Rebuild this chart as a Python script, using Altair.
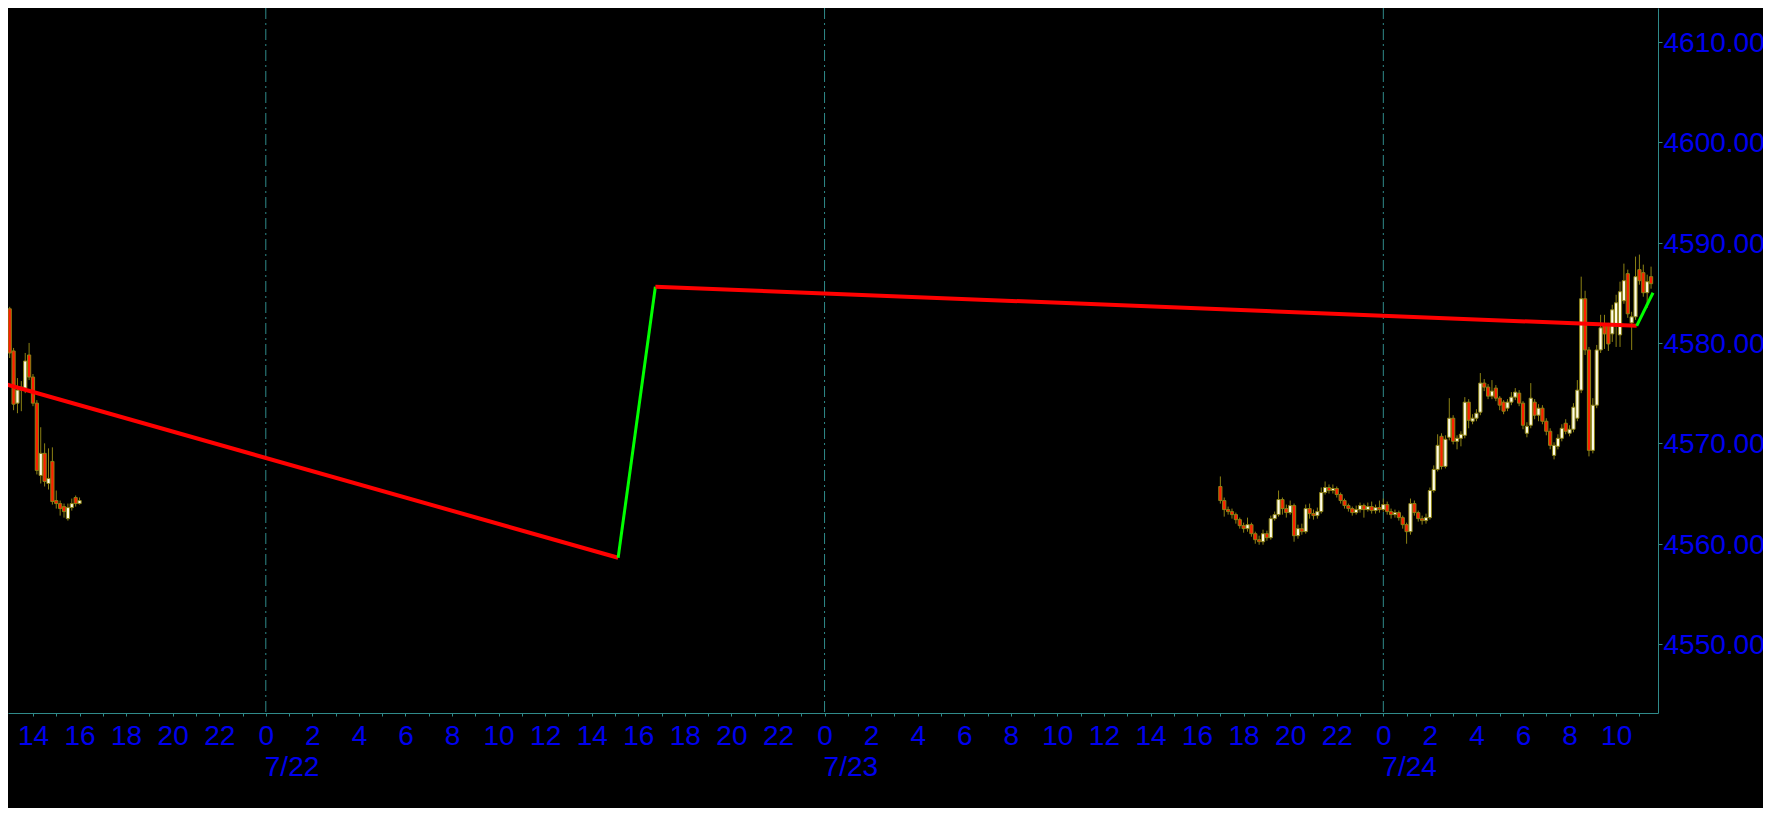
import altair as alt
import pandas as pd
import numpy as np

# ---------------- data (10-minute candles) ----------------
left_start = "2023-07-21 12:50"
left_open  = [4581.5, 4583.4, 4579.2, 4574.0, 4575.3, 4575.5, 4578.8, 4576.6, 4574.0, 4566.8,
              4569.0, 4566.0, 4568.2, 4564.3, 4564.0, 4563.7, 4562.5, 4563.6, 4564.6, 4564.0]
left_high  = [4584.0, 4583.6, 4579.5, 4576.5, 4576.2, 4579.0, 4580.0, 4576.9, 4574.3, 4571.6,
              4570.0, 4569.5, 4569.6, 4565.3, 4564.3, 4564.0, 4564.0, 4564.5, 4564.8, 4564.6]
left_low   = [4581.0, 4578.5, 4573.3, 4573.0, 4573.2, 4575.0, 4576.3, 4573.7, 4566.9, 4566.0,
              4565.7, 4565.4, 4563.9, 4563.5, 4562.8, 4562.6, 4562.3, 4563.3, 4563.7, 4563.9]
left_close = [4583.4, 4579.0, 4573.9, 4575.3, 4575.6, 4578.2, 4576.6, 4574.0, 4567.3, 4569.0,
              4566.2, 4566.5, 4564.2, 4564.0, 4563.5, 4563.2, 4563.6, 4564.0, 4564.0, 4564.3]

right_start = "2023-07-23 17:00"
right_open = [4565.7, 4564.3, 4563.4, 4563.2, 4562.9, 4562.4, 4561.8, 4561.5, 4561.9, 4561.0,
              4560.4, 4560.2, 4561.0, 4560.6, 4562.5, 4562.9, 4564.4, 4563.5, 4563.1, 4563.8,
              4560.8, 4561.5, 4561.2, 4563.5, 4563.0, 4562.8, 4563.2, 4565.1, 4565.6, 4565.3,
              4565.5, 4564.9, 4564.3, 4563.8, 4563.5, 4563.1, 4563.4, 4563.8, 4563.4, 4563.7,
              4563.3, 4563.6, 4563.4, 4563.9, 4563.2, 4562.9, 4563.1, 4562.6, 4561.9, 4561.2,
              4564.0, 4563.1, 4562.5, 4562.3, 4562.6, 4565.3, 4567.4, 4570.7, 4567.7, 4570.6,
              4572.5, 4570.2, 4570.5, 4570.8, 4574.1, 4572.2, 4572.5, 4573.1, 4576.0, 4575.6,
              4574.7, 4575.5, 4574.5, 4574.1, 4573.5, 4574.1, 4574.6, 4575.0, 4574.0, 4571.0,
              4571.8, 4574.1, 4572.8, 4573.5, 4572.2, 4571.2, 4568.8, 4569.7, 4570.5, 4572.0,
              4571.0, 4571.4, 4572.5, 4575.3, 4584.4, 4579.3, 4569.3, 4573.8, 4579.3, 4581.9,
              4581.7, 4580.9, 4581.7, 4580.8, 4584.2, 4586.9, 4582.0, 4582.6, 4587.3, 4587.0,
              4585.0, 4586.6]
right_high = [4566.7, 4564.6, 4563.7, 4563.5, 4563.1, 4562.6, 4562.1, 4562.6, 4562.1, 4561.2,
              4560.8, 4561.4, 4561.3, 4562.8, 4563.2, 4565.3, 4564.6, 4563.9, 4564.3, 4564.0,
              4561.9, 4562.0, 4563.9, 4564.0, 4563.4, 4563.6, 4565.6, 4566.2, 4565.9, 4565.9,
              4565.7, 4565.1, 4564.5, 4564.0, 4563.7, 4563.8, 4564.1, 4564.0, 4564.1, 4564.2,
              4563.9, 4564.3, 4564.5, 4564.2, 4563.5, 4563.4, 4563.3, 4562.8, 4562.1, 4564.5,
              4564.3, 4563.3, 4562.8, 4563.0, 4565.6, 4567.8, 4570.9, 4571.0, 4570.8, 4574.5,
              4572.8, 4570.8, 4571.2, 4574.6, 4574.4, 4572.9, 4573.4, 4577.0, 4576.4, 4575.9,
              4576.3, 4575.8, 4574.7, 4574.3, 4574.4, 4575.1, 4575.5, 4575.3, 4574.2, 4572.1,
              4576.0, 4574.4, 4573.9, 4573.8, 4572.5, 4571.5, 4570.1, 4570.9, 4571.9, 4572.4,
              4571.8, 4574.0, 4576.3, 4586.6, 4585.2, 4579.6, 4574.5, 4579.8, 4582.8, 4582.8,
              4582.0, 4583.8, 4584.8, 4586.1, 4587.9, 4587.3, 4583.1, 4588.6, 4588.8, 4587.8,
              4586.8, 4587.6]
right_low  = [4564.0, 4562.7, 4562.9, 4562.5, 4562.0, 4561.5, 4561.1, 4561.2, 4560.7, 4560.0,
              4559.9, 4559.9, 4560.3, 4560.4, 4562.3, 4562.7, 4562.9, 4562.6, 4562.9, 4560.2,
              4560.5, 4560.9, 4561.0, 4562.5, 4562.4, 4562.5, 4563.0, 4564.9, 4565.0, 4565.0,
              4564.6, 4564.0, 4563.5, 4563.2, 4562.8, 4562.9, 4563.1, 4562.6, 4563.2, 4563.0,
              4563.0, 4563.1, 4563.2, 4562.9, 4562.5, 4562.6, 4562.3, 4561.5, 4560.0, 4560.9,
              4562.8, 4562.2, 4561.9, 4562.0, 4562.4, 4565.1, 4567.2, 4567.4, 4567.5, 4570.3,
              4569.9, 4569.4, 4569.7, 4570.5, 4571.5, 4571.9, 4572.2, 4572.8, 4575.2, 4574.4,
              4574.4, 4574.2, 4573.3, 4572.9, 4573.2, 4573.8, 4574.3, 4573.7, 4571.4, 4570.6,
              4571.5, 4572.4, 4572.2, 4571.9, 4570.8, 4569.4, 4568.4, 4569.4, 4570.2, 4570.9,
              4570.7, 4571.1, 4572.2, 4575.0, 4578.8, 4568.7, 4569.0, 4573.5, 4579.0, 4579.4,
              4579.2, 4580.1, 4579.6, 4579.6, 4583.9, 4582.5, 4579.3, 4582.3, 4585.8, 4584.6,
              4583.5, 4585.4]
right_close = [4564.3, 4563.4, 4563.2, 4562.9, 4562.4, 4561.8, 4561.5, 4561.9, 4561.0, 4560.4,
               4560.2, 4561.0, 4560.6, 4562.5, 4562.9, 4564.4, 4563.5, 4563.1, 4563.8, 4560.8,
               4561.5, 4561.2, 4563.5, 4563.0, 4562.8, 4563.2, 4565.1, 4565.6, 4565.3, 4565.5,
               4564.9, 4564.3, 4563.8, 4563.5, 4563.1, 4563.4, 4563.8, 4563.4, 4563.7, 4563.3,
               4563.6, 4563.4, 4563.9, 4563.2, 4562.9, 4563.1, 4562.6, 4561.9, 4561.2, 4564.0,
               4563.1, 4562.5, 4562.3, 4562.6, 4565.3, 4567.4, 4569.8, 4567.7, 4570.4, 4572.5,
               4570.2, 4570.5, 4570.9, 4574.1, 4572.3, 4572.5, 4573.0, 4576.0, 4575.6, 4574.7,
               4575.2, 4574.5, 4573.8, 4573.2, 4574.1, 4574.6, 4575.1, 4574.0, 4571.8, 4571.7,
               4574.5, 4572.8, 4573.5, 4572.2, 4571.2, 4569.8, 4569.8, 4570.5, 4571.5, 4571.2,
               4571.4, 4573.6, 4575.3, 4584.4, 4579.3, 4569.3, 4573.8, 4579.3, 4581.5, 4580.9,
               4579.9, 4583.3, 4584.0, 4585.1, 4586.2, 4582.9, 4582.6, 4586.6, 4586.2, 4585.0,
               4586.1, 4585.9]

# zigzag indicator pivots
zz_time  = ["2023-07-21T12:48:00", "2023-07-22T15:08:00", "2023-07-22T16:44:00",
            "2023-07-24T10:53:00", "2023-07-24T11:35:00"]
zz_price = [4575.9, 4558.6, 4585.6, 4581.7, 4585.0]

day_time  = ["2023-07-22T00:00:00", "2023-07-23T00:00:00", "2023-07-24T00:00:00"]
day_label = ["7/22", "7/23", "7/24"]

y_ticks = [4550, 4560, 4570, 4580, 4590, 4600, 4610]

# ---------------- build tables ----------------
def frame(start, o, h, l, c):
    t = pd.date_range(start, periods=len(o), freq="10min")
    return pd.DataFrame({"t": t.strftime("%Y-%m-%dT%H:%M:%S"), "o": o, "h": h, "l": l, "c": c})

candles = pd.concat([frame(left_start, left_open, left_high, left_low, left_close),
                     frame(right_start, right_open, right_high, right_low, right_close)],
                    ignore_index=True)
candles["dir"] = np.where(candles["c"] >= candles["o"], "bull", "bear")

zz_rows = []
for s in range(len(zz_time) - 1):
    d = "down" if zz_price[s + 1] < zz_price[s] else "up"
    zz_rows.append({"t": zz_time[s], "p": zz_price[s], "seg": s, "dir": d})
    zz_rows.append({"t": zz_time[s + 1], "p": zz_price[s + 1], "seg": s, "dir": d})
zz = pd.DataFrame(zz_rows)

days = pd.DataFrame({"t": day_time, "label": day_label})

hour_ticks = [alt.DateTime(year=ts.year, month=ts.month, date=ts.day, hours=ts.hour)
              for ts in pd.date_range("2023-07-21 14:00", "2023-07-24 11:00", freq="1h")]

# ---------------- styling ----------------
TEAL = "#2f8a8a"
BLUE = "#0000ee"
OLIVE = "#8c8214"
FONT = "Liberation Sans"
FS = 28

x_scale = alt.Scale(domain=[alt.DateTime(year=2023, month=7, date=21, hours=13, minutes=8, seconds=30),
                            alt.DateTime(year=2023, month=7, date=24, hours=11, minutes=35)],
                    nice=False)
y_scale = alt.Scale(domain=[4543.14, 4613.36], nice=False, zero=False)

x_axis = alt.Axis(values=hour_ticks, title=None, grid=False,
                  labelExpr="hours(datum.value) % 2 == 0 ? '' + hours(datum.value) : ''",
                  domainColor=TEAL, tickColor=TEAL, tickSize=3, labelPadding=6,
                  labelColor=BLUE, labelFont=FONT, labelFontSize=FS,
                  labelOverlap=False, labelFlush=False, labelBound=False)
y_axis = alt.Axis(orient="right", values=y_ticks, format=".3f", title=None, grid=False,
                  domainColor=TEAL, tickColor=TEAL, tickSize=4, labelPadding=1,
                  labelColor=BLUE, labelFont=FONT, labelFontSize=FS, labelOffset=1.5,
                  labelBaseline="middle", labelOverlap=False, labelFlush=False)

X = alt.X("t:T", scale=x_scale, axis=x_axis)

grid = alt.Chart(days).mark_rule(color=TEAL, strokeWidth=1, strokeDash=[11, 4, 2, 4]).encode(x=X)

wicks = alt.Chart(candles).mark_rule(color=OLIVE, strokeWidth=1, clip=True).encode(
    x=X,
    y=alt.Y("l:Q", scale=y_scale, axis=y_axis),
    y2="h:Q",
)

bodies = alt.Chart(candles).mark_bar(size=3.2, stroke=OLIVE, strokeWidth=1, clip=True).encode(
    x=X,
    y=alt.Y("o:Q", scale=y_scale, axis=y_axis),
    y2="c:Q",
    fill=alt.Fill("dir:N", scale=alt.Scale(domain=["bull", "bear"], range=["#fffde8", "#ff1e00"]),
                  legend=None),
)

zigzag = alt.Chart(zz).mark_line(clip=True).encode(
    x=X,
    y=alt.Y("p:Q", scale=y_scale, axis=y_axis),
    detail="seg:N",
    color=alt.Color("dir:N", scale=alt.Scale(domain=["down", "up"], range=["#ff0000", "#00ff00"]),
                    legend=None),
    strokeWidth=alt.StrokeWidth("dir:N", scale=alt.Scale(domain=["down", "up"], range=[4, 3]),
                                legend=None),
)

dates = alt.Chart(days).mark_text(align="left", baseline="alphabetic", dx=-1,
                                  font=FONT, fontSize=FS, color=BLUE).encode(
    x=X, y=alt.value(768), text="label:N")

chart = alt.layer(grid, wicks, bodies, zigzag, dates).properties(
    width=1650, height=705,
    background="#000000",
    autosize=alt.AutoSizeParams(type="none"),
    padding={"left": 0, "top": 0, "right": 105, "bottom": 95},
).configure_view(stroke=None)

chart.save("out.html", embed_options={"renderer": "svg", "actions": False})
